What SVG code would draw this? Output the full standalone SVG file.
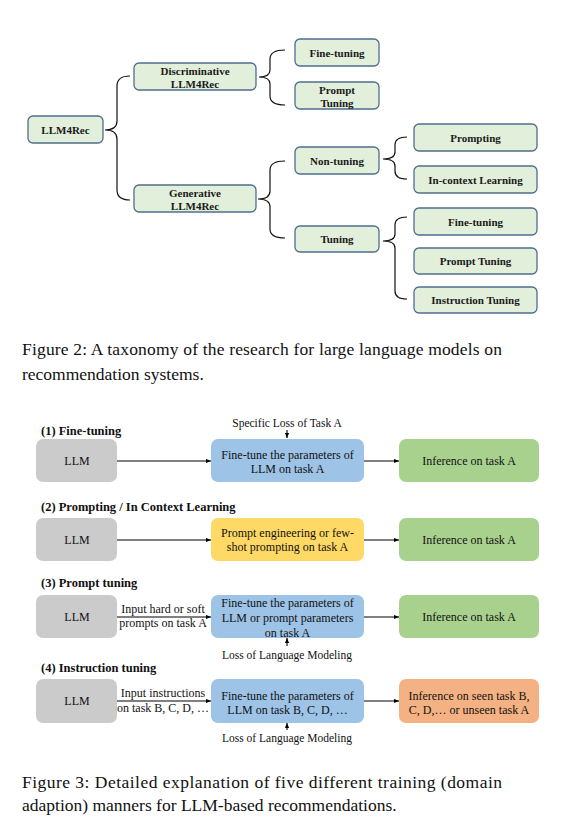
<svg xmlns="http://www.w3.org/2000/svg" width="565" height="838" viewBox="0 0 565 838">
<defs>
<marker id="ah" viewBox="0 0 6 6" refX="6" refY="3" markerWidth="5" markerHeight="5" orient="auto" markerUnits="userSpaceOnUse">
<path d="M0,0.5 L6,3 L0,5.5 z" fill="#000"/>
</marker>
</defs>
<rect width="565" height="838" fill="#fff"/>

<g id="braces" fill="none" stroke="#111" stroke-width="1.2">
<path d="M130,76 Q117,76 117,86 L117,121 Q117,130 105,130 Q117,130 117,139 L117,190 Q117,200 130,200"/>
<path d="M285,50 Q270,50 270,59 L270,70 Q270,77 259,77 Q270,77 270,84 L270,96 Q270,105 285,105"/>
<path d="M285,161 Q270,161 270,170 L270,191 Q270,199 258,199 Q270,199 270,207 L270,229 Q270,238 285,238"/>
<path d="M407,137 Q395,137 395,145 L395,152 Q395,159 383,159 Q395,159 395,166 L395,171 Q395,179 407,179"/>
<path d="M407,217 Q395,217 395,225 L395,234 Q395,241 383,241 Q395,241 395,248 L395,291 Q395,299 407,299"/>
</g>

<g id="taxonomy" font-weight="bold" font-size="11" text-anchor="middle">
<g id="n-llm4rec"><rect fill="#e2efda" stroke="#4f6d8f" stroke-width="1.3" x="28" y="116" width="75" height="27" rx="5"/><text font-family="Liberation Serif" fill="#1a1a1a" x="65.5" y="133.5">LLM4Rec</text></g>
<g id="n-disc"><rect fill="#e2efda" stroke="#4f6d8f" stroke-width="1.3" x="134" y="63" width="122" height="27" rx="5"/><text font-family="Liberation Serif" fill="#1a1a1a" x="195" y="74.5">Discriminative</text><text font-family="Liberation Serif" fill="#1a1a1a" x="195" y="87.5">LLM4Rec</text></g>
<g id="n-gen"><rect fill="#e2efda" stroke="#4f6d8f" stroke-width="1.3" x="134" y="185" width="122" height="27" rx="5"/><text font-family="Liberation Serif" fill="#1a1a1a" x="195" y="196.5">Generative</text><text font-family="Liberation Serif" fill="#1a1a1a" x="195" y="209.5">LLM4Rec</text></g>
<g id="n-d-ft"><rect fill="#e2efda" stroke="#4f6d8f" stroke-width="1.3" x="295" y="39" width="84" height="27" rx="5"/><text font-family="Liberation Serif" fill="#1a1a1a" x="337" y="56.5">Fine-tuning</text></g>
<g id="n-d-pt"><rect fill="#e2efda" stroke="#4f6d8f" stroke-width="1.3" x="295" y="82" width="84" height="27" rx="5"/><text font-family="Liberation Serif" fill="#1a1a1a" x="337" y="93.5">Prompt</text><text font-family="Liberation Serif" fill="#1a1a1a" x="337" y="106.5">Tuning</text></g>
<g id="n-nontuning"><rect fill="#e2efda" stroke="#4f6d8f" stroke-width="1.3" x="295" y="147" width="84" height="27" rx="5"/><text font-family="Liberation Serif" fill="#1a1a1a" x="337" y="164.5">Non-tuning</text></g>
<g id="n-tuning"><rect fill="#e2efda" stroke="#4f6d8f" stroke-width="1.3" x="295" y="226" width="84" height="26" rx="5"/><text font-family="Liberation Serif" fill="#1a1a1a" x="337" y="243">Tuning</text></g>
<g id="n-prompting"><rect fill="#e2efda" stroke="#4f6d8f" stroke-width="1.3" x="414" y="124" width="123" height="27" rx="5"/><text font-family="Liberation Serif" fill="#1a1a1a" x="475.5" y="141.5">Prompting</text></g>
<g id="n-icl"><rect fill="#e2efda" stroke="#4f6d8f" stroke-width="1.3" x="414" y="166" width="123" height="27" rx="5"/><text font-family="Liberation Serif" fill="#1a1a1a" x="475.5" y="183.5">In-context Learning</text></g>
<g id="n-g-ft"><rect fill="#e2efda" stroke="#4f6d8f" stroke-width="1.3" x="414" y="208" width="123" height="27" rx="5"/><text font-family="Liberation Serif" fill="#1a1a1a" x="475.5" y="225.5">Fine-tuning</text></g>
<g id="n-g-pt"><rect fill="#e2efda" stroke="#4f6d8f" stroke-width="1.3" x="414" y="248" width="123" height="26" rx="5"/><text font-family="Liberation Serif" fill="#1a1a1a" x="475.5" y="265">Prompt Tuning</text></g>
<g id="n-g-it"><rect fill="#e2efda" stroke="#4f6d8f" stroke-width="1.3" x="414" y="287" width="123" height="26" rx="5"/><text font-family="Liberation Serif" fill="#1a1a1a" x="475.5" y="304">Instruction Tuning</text></g>
</g>

<g id="caption2" font-size="17.5" fill="#111">
<text font-family="Liberation Serif" x="22" y="355" textLength="480" lengthAdjust="spacing">Figure 2: A taxonomy of the research for large language models on</text>
<text font-family="Liberation Serif" x="22" y="380">recommendation systems.</text>
</g>

<g id="connectors" fill="none" stroke="#000" stroke-width="1.1" marker-end="url(#ah)">
<path d="M117,461 L211,461"/>
<path d="M364,461 L399,461"/>
<path d="M287,430 L287,438"/>
<path d="M117,540 L211,540"/>
<path d="M364,540 L399,540"/>
<path d="M117,617 L211,617"/>
<path d="M364,617 L399,617"/>
<path d="M287,646 L287,638"/>
<path d="M117,701 L211,701"/>
<path d="M364,701 L399,701"/>
<path d="M287,730 L287,723"/>
</g>

<g id="headings" font-weight="bold" font-size="12.5" fill="#111">
<text font-family="Liberation Serif" x="41" y="435">(1) Fine-tuning</text>
<text font-family="Liberation Serif" x="41" y="511">(2) Prompting / In Context Learning</text>
<text font-family="Liberation Serif" x="41" y="587">(3) Prompt tuning</text>
<text font-family="Liberation Serif" x="41" y="672">(4) Instruction tuning</text>
</g>

<g id="labels" font-size="11.5" fill="#111" text-anchor="middle">
<text font-family="Liberation Serif" x="287" y="427">Specific Loss of Task A</text>
<text font-family="Liberation Serif" x="287" y="659">Loss of Language Modeling</text>
<text font-family="Liberation Serif" x="287" y="742">Loss of Language Modeling</text>
</g>

<g id="pipeline" font-size="12" fill="#111" text-anchor="middle">
<g id="r1-llm"><rect fill="#cbcbcb" x="36" y="439" width="81" height="43" rx="7"/><text font-family="Liberation Serif" x="77" y="465">LLM</text></g>
<g id="r1-ft"><rect fill="#9dc3e6" x="211" y="439" width="153" height="43" rx="7"/><text font-family="Liberation Serif" x="287.5" y="459">Fine-tune the parameters of</text><text font-family="Liberation Serif" x="287.5" y="473">LLM on task A</text></g>
<g id="r1-inf"><rect fill="#a9d18e" x="399" y="439" width="140" height="43" rx="7"/><text font-family="Liberation Serif" x="469" y="465">Inference on task A</text></g>

<g id="r2-llm"><rect fill="#cbcbcb" x="36" y="518" width="81" height="43" rx="7"/><text font-family="Liberation Serif" x="77" y="544">LLM</text></g>
<g id="r2-pe"><rect fill="#ffd966" x="211" y="518" width="153" height="43" rx="7"/><text font-family="Liberation Serif" x="287.5" y="537">Prompt engineering or few-</text><text font-family="Liberation Serif" x="287.5" y="551">shot prompting on task A</text></g>
<g id="r2-inf"><rect fill="#a9d18e" x="399" y="518" width="140" height="43" rx="7"/><text font-family="Liberation Serif" x="469" y="544">Inference on task A</text></g>

<g id="r3-llm"><rect fill="#cbcbcb" x="36" y="595" width="81" height="43" rx="7"/><text font-family="Liberation Serif" x="77" y="621">LLM</text></g>
<text font-family="Liberation Serif" x="163" y="613">Input hard or soft</text>
<text font-family="Liberation Serif" x="163" y="627">prompts on task A</text>
<g id="r3-ft"><rect fill="#9dc3e6" x="211" y="595" width="153" height="43" rx="7"/><text font-family="Liberation Serif" x="287.5" y="607">Fine-tune the parameters of</text><text font-family="Liberation Serif" x="287.5" y="622">LLM or prompt parameters</text><text font-family="Liberation Serif" x="287.5" y="637">on task A</text></g>
<g id="r3-inf"><rect fill="#a9d18e" x="399" y="595" width="140" height="43" rx="7"/><text font-family="Liberation Serif" x="469" y="621">Inference on task A</text></g>

<g id="r4-llm"><rect fill="#cbcbcb" x="36" y="679" width="81" height="44" rx="7"/><text font-family="Liberation Serif" x="77" y="705">LLM</text></g>
<text font-family="Liberation Serif" x="163" y="697">Input instructions</text>
<text font-family="Liberation Serif" x="163" y="712">on task B, C, D, …</text>
<g id="r4-ft"><rect fill="#9dc3e6" x="211" y="679" width="153" height="44" rx="7"/><text font-family="Liberation Serif" x="287.5" y="700">Fine-tune the parameters of</text><text font-family="Liberation Serif" x="287.5" y="714">LLM on task B, C, D, …</text></g>
<g id="r4-inf"><rect fill="#f4b183" x="399" y="679" width="140" height="44" rx="7"/><text font-family="Liberation Serif" x="469" y="700">Inference on seen task B,</text><text font-family="Liberation Serif" x="469" y="714">C, D,… or unseen task A</text></g>
</g>

<g id="caption3" font-size="17.5" fill="#111">
<text font-family="Liberation Serif" x="22" y="788" textLength="480" lengthAdjust="spacing">Figure 3:  Detailed explanation of five different training (domain</text>
<text font-family="Liberation Serif" x="22" y="811">adaption) manners for LLM-based recommendations.</text>
</g>
</svg>
